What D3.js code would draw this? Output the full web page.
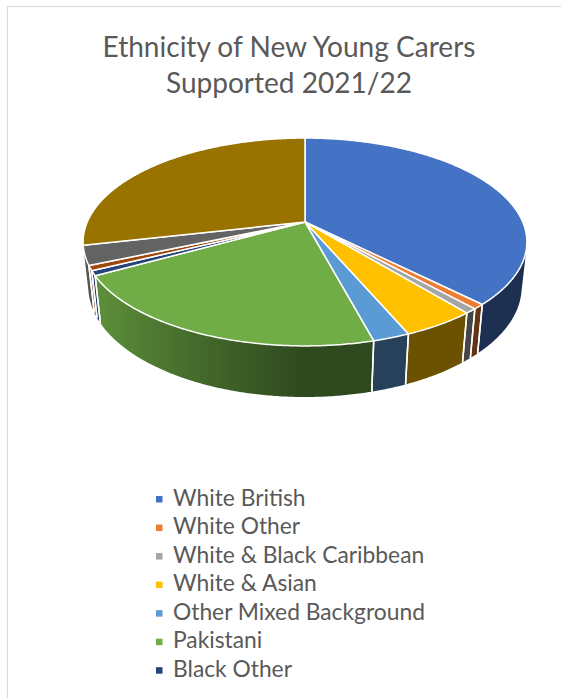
<!DOCTYPE html>
<html>
<head>
<meta charset="utf-8">
<script src="https://cdn.jsdelivr.net/npm/d3@7"></script>
<style>
  html, body { margin: 0; padding: 0; background: #fff; }
  svg { display: block; }
</style>
</head>
<body>
<svg id="chart" width="561" height="698"></svg>
<script>
// Ethnicity of new young carers supported in 2021/22 (head counts)
const categories = [
  "White British",
  "White Other",
  "White & Black Caribbean",
  "White & Asian",
  "Other Mixed Background",
  "Pakistani",
  "Black Other",
  "Black African",
  "Any Other Ethnic Group",
  "Not Known"
];
const values = [50, 1, 1, 6, 3, 28, 1, 1, 4, 38];
const colors = [
  "#4472C4", "#ED7D31", "#A5A5A5", "#FFC000", "#5B9BD5",
  "#70AD47", "#264478", "#9E480E", "#636363", "#997300"
];
const titleLines = ["Ethnicity of New Young Carers", "Supported 2021/22"];
// the legend box only has room for the first seven entries
const legendCount = 7;

const W = 561, H = 698;
const svg = d3.select("#chart");
const defs = svg.append("defs");

// frame of the chart area
svg.append("path")
  .attr("d", `M7.5,${H + 2} V6.5 H${W + 2}`)
  .attr("fill", "none")
  .attr("stroke", "#d9d9d9")
  .attr("stroke-width", 1.2);

// ---- 3D pie geometry (unit radius disc seen in perspective) ----
const cx = 305, cy = 222;          // projected centre of the top face
const focal = 1006, dist = 4.62;   // perspective
const tilt = Math.asin(0.4597);
const sT = Math.sin(tilt), cT = Math.cos(tilt);
const depthH = 0.2345;             // thickness of the disc

function project(theta, y) {
  const x = Math.sin(theta), z = -Math.cos(theta);
  const depth = dist - (y * sT + z * cT);
  return [cx + focal * x / depth, cy - focal * (y * cT - z * sT) / depth];
}

// visible range of the side wall (tangent lines from the eye)
const zt = 1 / (dist * cT);
const sideMin = Math.PI - Math.acos(zt);
const sideMax = Math.PI + Math.acos(zt);

const pie = d3.pie().sort(null).value(d => d.value);
const arcs = pie(categories.map((c, i) => ({ name: c, value: values[i], color: colors[i] })));

// side shading: lighter where the wall turns towards the left
const shade = d3.scaleLinear().domain([0, 1]).range([0.42, 0.9]).clamp(true);
function sideColor(base, theta) {
  const k = shade(Math.max(0, -Math.sin(theta)));
  const c = d3.rgb(base);
  return d3.rgb(c.r * k, c.g * k, c.b * k).formatHex();
}

const sideLayer = svg.append("g");
const step = Math.PI / 360;
arcs.forEach((a, i) => {
  const a0 = Math.max(a.startAngle, sideMin);
  const a1 = Math.min(a.endAngle, sideMax);
  if (a1 <= a0) return;
  const n = Math.max(2, Math.ceil((a1 - a0) / step));
  const ts = d3.range(n + 1).map(k => a0 + (a1 - a0) * k / n);
  const topPts = ts.map(t => project(t, 0));
  const botPts = ts.map(t => project(t, -depthH)).reverse();

  // horizontal gradient following the wall's shading
  const xs = topPts.map(p => p[0]);
  const xMin = d3.min(xs), xMax = d3.max(xs);
  const grad = defs.append("linearGradient")
    .attr("id", "side" + i)
    .attr("gradientUnits", "userSpaceOnUse")
    .attr("x1", xMin).attr("x2", xMax === xMin ? xMin + 1 : xMax)
    .attr("y1", 0).attr("y2", 0);
  const stops = ts.map((t, k) => ({
    off: xMax === xMin ? 0 : (xs[k] - xMin) / (xMax - xMin),
    col: sideColor(a.data.color, t)
  })).sort((p, q) => p.off - q.off);
  grad.selectAll("stop").data(stops).join("stop")
    .attr("offset", d => d.off)
    .attr("stop-color", d => d.col);

  sideLayer.append("path")
    .attr("d", "M" + topPts.concat(botPts).map(p => p.join(",")).join("L") + "Z")
    .attr("fill", `url(#side${i})`);
});
// white seams between the wall segments
arcs.forEach(a => {
  [a.startAngle, a.endAngle].forEach(t => {
    if (t < sideMin || t > sideMax) return;
    const p0 = project(t, 0), p1 = project(t, -depthH);
    sideLayer.append("line")
      .attr("x1", p0[0]).attr("y1", p0[1])
      .attr("x2", p1[0]).attr("y2", p1[1])
      .attr("stroke", "#fff").attr("stroke-width", 1.5);
  });
});

// top face slices
const faceLayer = svg.append("g");
arcs.forEach(a => {
  const p = d3.path();
  p.moveTo(cx, cy);
  const n = Math.max(2, Math.ceil((a.endAngle - a.startAngle) / step));
  for (let k = 0; k <= n; k++) {
    const t = a.startAngle + (a.endAngle - a.startAngle) * k / n;
    const q = project(t, 0);
    p.lineTo(q[0], q[1]);
  }
  p.closePath();
  faceLayer.append("path")
    .attr("d", p.toString())
    .attr("fill", a.data.color)
    .attr("stroke", "#fff")
    .attr("stroke-width", 1.5)
    .attr("stroke-linejoin", "round");
});

// ---- title ----
const font = "Lato, 'Open Sans', sans-serif";
function fitSize(text, width, start) {
  const t = svg.append("text").attr("font-family", font).attr("font-size", start).text(text);
  const w = t.node().getComputedTextLength();
  t.remove();
  return start * width / w;
}
const titleSize = fitSize(titleLines[0], 373, 30);
svg.append("g").selectAll("text")
  .data(titleLines)
  .join("text")
  .attr("x", 289)
  .attr("y", (d, i) => 56.5 + i * 36.5)
  .attr("text-anchor", "middle")
  .attr("font-family", font)
  .attr("font-size", titleSize)
  .attr("fill", "#595959")
  .text(d => d);

// ---- legend ----
const legendSize = fitSize("Other Mixed Background", 252, 21);
const legendY = d3.scaleLinear().domain([0, 6]).range([505.5, 676.7]);
const legend = svg.append("g").selectAll("g")
  .data(arcs.slice(0, legendCount))
  .join("g")
  .attr("transform", (d, i) => `translate(0,${legendY(i)})`);
legend.append("rect")
  .attr("x", 156).attr("y", -9.5)
  .attr("width", 6.5).attr("height", 6.5)
  .attr("fill", d => d.data.color);
legend.append("text")
  .attr("x", 173).attr("y", 0)
  .attr("font-family", font)
  .attr("font-size", legendSize)
  .attr("fill", "#595959")
  .text(d => d.data.name);
</script>
</body>
</html>
